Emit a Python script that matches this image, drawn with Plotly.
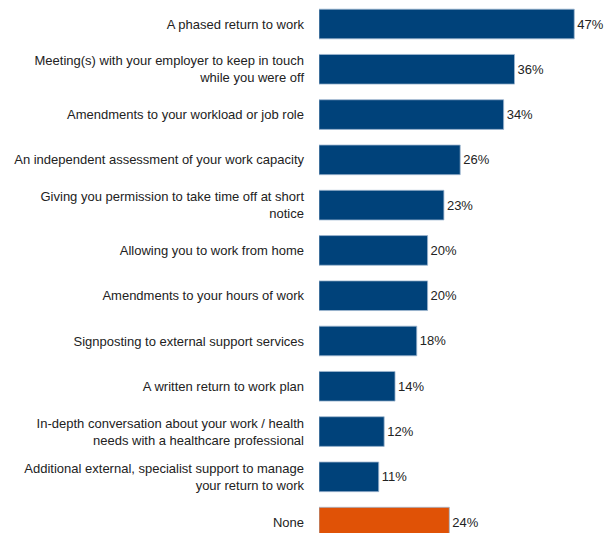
import plotly.graph_objects as go

# Support measures offered on return to work (% of respondents)
categories = [
    "A phased return to work",
    "Meeting(s) with your employer to keep in touch<br>while you were off",
    "Amendments to your workload or job role",
    "An independent assessment of your work capacity",
    "Giving you permission to take time off at short<br>notice",
    "Allowing you to work from home",
    "Amendments to your hours of work",
    "Signposting to external support services",
    "A written return to work plan",
    "In-depth conversation about your work / health<br>needs with a healthcare professional",
    "Additional external, specialist support to manage<br>your return to work",
    "None",
]
values = [47, 36, 34, 26, 23, 20, 20, 18, 14, 12, 11, 24]

NAVY = "#00427a"
ORANGE = "#e05206"
colors = [ORANGE if c == "None" else NAVY for c in categories]

fig = go.Figure(
    go.Bar(
        x=values,
        y=categories,
        orientation="h",
        marker=dict(color=colors, line=dict(color="#9fb7d0", width=0.8)),
        text=[f"{v}%" for v in values],
        textposition="outside",
        textfont=dict(family="Liberation Sans, Arial", size=13, color="#222222"),
        cliponaxis=False,
        width=0.655,
    )
)

fig.update_layout(
    width=606,
    height=533,
    margin=dict(l=319, r=16, t=0, b=0),
    paper_bgcolor="white",
    plot_bgcolor="white",
    showlegend=False,
    font=dict(family="Liberation Sans, Arial", size=13, color="#222222"),
    xaxis=dict(range=[0, 49.9], visible=False, fixedrange=True),
    yaxis=dict(
        type="category",
        range=[11.24, -0.53],
        showgrid=False,
        showline=False,
        zeroline=False,
        ticks="",
        ticklabelstandoff=14,
        tickfont=dict(family="Liberation Sans, Arial", size=13, color="#222222"),
    ),
)

fig.write_html("out.html")
